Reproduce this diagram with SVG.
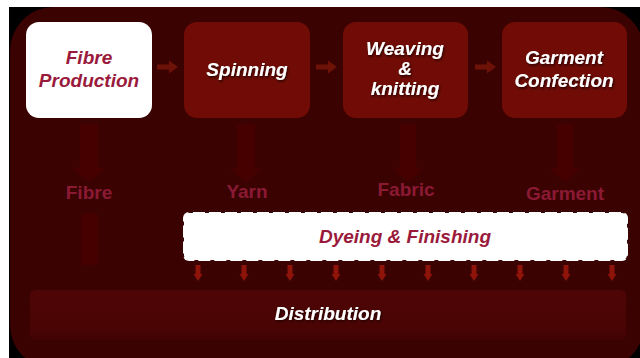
<svg xmlns="http://www.w3.org/2000/svg" width="640" height="358" viewBox="0 0 640 358">
  <defs>
    <style>
      .box-txt { font-family: "Liberation Sans", Arial, sans-serif; font-weight: bold; font-style: italic; font-size: 19px; text-anchor: middle; }
      .light { fill: #ffffff; filter: url(#shadow); }
      .crimson { fill: #9a1a3c; }
      .product { font-family: "Liberation Sans", Arial, sans-serif; font-weight: bold; font-size: 19px; text-anchor: middle; fill: #8a1a34; }
      .stage { fill: #700c05; }
      .flow { fill: #6e1208; }
      .feed { fill: #470505; filter: url(#soft); }
      .drop { fill: #8e1308; }
    </style>
    <filter id="shadow" x="-10%" y="-20%" width="130%" height="160%">
      <feDropShadow dx="1" dy="1.5" stdDeviation="0.8" flood-color="#1a0000" flood-opacity="0.9"/>
    </filter>
    <filter id="soft" x="-20%" y="-10%" width="140%" height="120%">
      <feGaussianBlur stdDeviation="1.2"/>
    </filter>
    <linearGradient id="distFill" x1="0" y1="0" x2="0" y2="1">
      <stop offset="0" stop-color="#4e0505"/>
      <stop offset="0.75" stop-color="#4a0404"/>
      <stop offset="1" stop-color="#420303"/>
    </linearGradient>
  </defs>

  <!-- page margin and backdrop -->
  <rect x="0" y="0" width="640" height="358" fill="#ffffff"/>
  <rect x="9" y="7" width="631" height="351" fill="#000000"/>
  <rect x="10" y="7" width="634" height="362" rx="44" fill="#3b0202"/>

  <!-- connectors -->
  <g id="connectors">
    <!-- process flow between stages -->
    <path class="flow" d="M157,64.5 h12 v-4 l9,6.5 l-9,6.5 v-4 h-12 z"/>
    <path class="flow" d="M316,64.5 h12 v-4 l9,6.5 l-9,6.5 v-4 h-12 z"/>
    <path class="flow" d="M475,64.5 h12 v-4 l9,6.5 l-9,6.5 v-4 h-12 z"/>
    <!-- stage outputs -->
    <path class="feed" d="M80,124 h18 v44 h8 l-17,14 l-17,-14 h8 z"/>
    <path class="feed" d="M237,124 h18 v44 h8 l-17,14 l-17,-14 h8 z"/>
    <path class="feed" d="M400,124 h16 v44 h8 l-16,14 l-16,-14 h8 z"/>
    <path class="feed" d="M557,124 h16 v44 h8 l-16,14 l-16,-14 h8 z"/>
    <rect class="feed" x="81" y="213" width="17" height="52" rx="4"/>
    <!-- finishing into distribution -->
    <g id="drops">
      <path class="drop" d="M195.5,265 h5 v9 h2 l-4.5,7 l-4.5,-7 h2 z"/>
      <path class="drop" d="M241.5,265 h5 v9 h2 l-4.5,7 l-4.5,-7 h2 z"/>
      <path class="drop" d="M287.5,265 h5 v9 h2 l-4.5,7 l-4.5,-7 h2 z"/>
      <path class="drop" d="M333.5,265 h5 v9 h2 l-4.5,7 l-4.5,-7 h2 z"/>
      <path class="drop" d="M379.5,265 h5 v9 h2 l-4.5,7 l-4.5,-7 h2 z"/>
      <path class="drop" d="M425.5,265 h5 v9 h2 l-4.5,7 l-4.5,-7 h2 z"/>
      <path class="drop" d="M471.5,265 h5 v9 h2 l-4.5,7 l-4.5,-7 h2 z"/>
      <path class="drop" d="M517.5,265 h5 v9 h2 l-4.5,7 l-4.5,-7 h2 z"/>
      <path class="drop" d="M563.5,265 h5 v9 h2 l-4.5,7 l-4.5,-7 h2 z"/>
      <path class="drop" d="M609.5,265 h5 v9 h2 l-4.5,7 l-4.5,-7 h2 z"/>
    </g>
  </g>

  <!-- stages -->
  <g id="fibre-production">
    <rect x="26" y="22" width="126" height="96" rx="13" fill="#ffffff"/>
    <text class="box-txt crimson" x="89" y="64">Fibre</text>
    <text class="box-txt crimson" x="89" y="87">Production</text>
  </g>
  <g id="spinning">
    <rect class="stage" x="184" y="22" width="126" height="96" rx="13"/>
    <text class="box-txt light" x="247" y="76">Spinning</text>
  </g>
  <g id="weaving-knitting">
    <rect class="stage" x="343" y="22" width="125" height="96" rx="13"/>
    <text class="box-txt light" x="405" y="55">Weaving</text>
    <text class="box-txt light" x="405" y="75">&amp;</text>
    <text class="box-txt light" x="405" y="95">knitting</text>
  </g>
  <g id="garment-confection">
    <rect class="stage" x="502" y="22" width="125" height="96" rx="13"/>
    <text class="box-txt light" x="564" y="64">Garment</text>
    <text class="box-txt light" x="564" y="87">Confection</text>
  </g>

  <!-- intermediate products -->
  <g id="products">
    <text class="product" x="89" y="199">Fibre</text>
    <text class="product" x="247" y="198">Yarn</text>
    <text class="product" x="406" y="196">Fabric</text>
    <text class="product" x="565" y="200">Garment</text>
  </g>

  <g id="dyeing-finishing">
    <rect x="183" y="212" width="445" height="49" rx="6" fill="#ffffff" stroke="#3a0808" stroke-width="2" stroke-dasharray="4 12"/>
    <text class="box-txt crimson" x="405" y="243">Dyeing &amp; Finishing</text>
  </g>

  <g id="distribution">
    <rect x="30" y="290" width="596" height="50" rx="6" fill="url(#distFill)"/>
    <text class="box-txt light" x="328" y="320">Distribution</text>
  </g>
</svg>
